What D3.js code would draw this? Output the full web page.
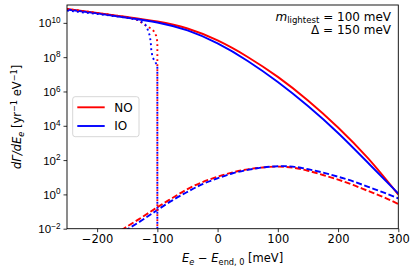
<!DOCTYPE html>
<html><head><meta charset="utf-8">
<script src="https://cdn.jsdelivr.net/npm/d3@7"></script>
<style>body{margin:0;background:#fff}svg{display:block;font-family:"DejaVu Sans",sans-serif}</style>
</head><body><svg id="c" width="413" height="275"></svg>
<script>
// ---- data ----
const xSolid = [-250,-200,-150,-100,-50,0,50,100,150,200,250,300];
const noSolid = [6.46e10,3.8e10,2.19e10,1.2e10,4.7e9,9.4e8,1.03e8,7.1e6,3.0e5,8.0e3,124,0.97];
const ioSolid = [6.0e10,3.55e10,2.0e10,1.05e10,3.6e9,6.3e8,6.0e7,3.55e6,1.42e5,3.8e3,68,1.12];
const xDashNO = [-160,-150,-125,-100,-75,-50,-25,0,25,50,75,100,125,150,175,200,225,250,275,300];
const noDash = [0.0081,0.0135,0.048,0.178,0.62,2.04,5.25,10.7,19.1,28.8,37.2,41.7,36.3,24,13.5,7.24,3.55,1.58,0.71,0.275];
const xDashIO = [-152,-150,-125,-100,-75,-50,-25,0,25,50,75,100,125,150,175,200,225,250,275,300];
const ioDash = [0.0081,0.0091,0.032,0.123,0.45,1.41,3.98,8.7,17.0,26.9,37.2,43.7,41.7,29.5,18.6,10.7,5.75,2.75,1.32,0.59];
const xDotNO = [-250,-200,-150,-140,-130,-125,-118,-111,-106,-102,-100,-100];
const noDot = [6.46e10,3.8e10,2.14e10,1.82e10,1.32e10,9.5e9,6.6e9,4.8e9,3.3e9,1.78e9,7.9e8,1e-3];
const xDotIO = [-250,-200,-150,-130,-120,-116,-113,-111,-110,-108,-104,-100,-100];
const ioDot = [5.2e10,3.3e10,2.0e10,1.41e10,7.9e9,4.0e9,2.0e9,7.9e8,2.5e8,1.0e8,5.6e7,3.2e7,1e-3];
const xTicks = [-200,-100,0,100,200,300];
const yTickExps = [-2,0,2,4,6,8,10];
const legendLabels = ["NO","IO"];
const colors = {NO:"#ff0000", IO:"#0000ff"};

// ---- layout ----
const svg = d3.select("#c");
const L=67, R=398.3, T=5, B=228.7;
const x = d3.scaleLinear().domain([-250,300]).range([L,R]);
const y = d3.scaleLog().domain([1e-2, 1.1e11]).range([B,T]);

svg.append("defs").append("clipPath").attr("id","clip")
  .append("rect").attr("x",L).attr("y",T).attr("width",R-L).attr("height",B-T);

const g = svg.append("g").attr("clip-path","url(#clip)");
function draw(xs, ys, col, dash, curve){
  const line = d3.line().x(d=>x(d[0])).y(d=>y(d[1])).curve(curve);
  g.append("path").datum(xs.map((v,i)=>[v,ys[i]]))
   .attr("d",line).attr("fill","none").attr("stroke",col)
   .attr("stroke-width",1.9).attr("stroke-dasharray",dash);
}
draw(xSolid,noSolid,colors.NO,null,d3.curveNatural);
draw(xSolid,ioSolid,colors.IO,null,d3.curveNatural);
draw(xDashNO,noDash,colors.NO,"6,2.6",d3.curveNatural);
draw(xDashIO,ioDash,colors.IO,"6,2.6",d3.curveNatural);
draw(xDotNO,noDot,colors.NO,"1.9,3.1",d3.curveLinear);
draw(xDotIO,ioDot,colors.IO,"1.9,3.1",d3.curveLinear);

// ---- axes ----
const xa = svg.append("g").attr("transform",`translate(0,${B})`)
  .call(d3.axisBottom(x).tickValues(xTicks).tickSize(3.5).tickPadding(3)
     .tickFormat(d=>d<0?"\u2212"+Math.abs(d):d));
xa.select(".domain").remove();
xa.selectAll("text").attr("font-size",11.5).attr("fill","#000").attr("font-family","DejaVu Sans");
xa.selectAll("line").attr("stroke","#000").attr("stroke-width",0.8);

const ya = svg.append("g").attr("transform",`translate(${L},0)`)
  .call(d3.axisLeft(y).tickValues(yTickExps.map(e=>Math.pow(10,e))).tickSize(3.5).tickPadding(3).tickFormat(""));
ya.select(".domain").remove();
ya.selectAll("line").attr("stroke","#000").attr("stroke-width",0.8);
ya.selectAll(".tick").each(function(d){
  const e = Math.round(Math.log10(d));
  const t = d3.select(this).append("text").attr("x",-6.5).attr("dy","0.35em")
    .attr("text-anchor","end").attr("font-size",11.5).attr("fill","#000");
  t.append("tspan").text("10");
  t.append("tspan").attr("font-size",8.2).attr("dy",-4.5).text(e<0?"\u2212"+Math.abs(e):e);
});

svg.append("rect").attr("x",L).attr("y",T).attr("width",R-L).attr("height",B-T)
  .attr("fill","none").attr("stroke","#000").attr("stroke-width",0.9);

// ---- labels ----
const xl = svg.append("text").attr("x",(L+R)/2).attr("y",262).attr("text-anchor","middle").attr("font-size",11.5);
xl.append("tspan").attr("font-style","italic").text("E");
xl.append("tspan").attr("font-style","italic").attr("font-size",8.2).attr("dy",2.5).text("e");
xl.append("tspan").attr("dy",-2.5).text(" \u2212 ");
xl.append("tspan").attr("font-style","italic").text("E");
xl.append("tspan").attr("font-size",8.2).attr("dy",2.5).text("end, 0");
xl.append("tspan").attr("dy",-2.5).text(" [meV]");

const yl = svg.append("text").attr("transform",`translate(21,${(T+B)/2}) rotate(-90)`)
  .attr("text-anchor","middle").attr("font-size",11.5);
yl.append("tspan").attr("font-style","italic").text("d\u0393/dE");
yl.append("tspan").attr("font-style","italic").attr("font-size",8.2).attr("dy",2.5).text("e");
yl.append("tspan").attr("dy",-2.5).text(" [yr");
yl.append("tspan").attr("font-size",8.2).attr("dy",-4.5).text("\u22121");
yl.append("tspan").attr("dy",4.5).text(" eV");
yl.append("tspan").attr("font-size",8.2).attr("dy",-4.5).text("\u22121");
yl.append("tspan").attr("dy",4.5).text("]");

// annotation
const a1 = svg.append("text").attr("x",391).attr("y",20.7).attr("text-anchor","end").attr("font-size",12);
a1.append("tspan").attr("font-style","italic").text("m");
a1.append("tspan").attr("font-size",8.6).attr("dy",2.5).text("lightest");
a1.append("tspan").attr("dy",-2.5).text(" = 100 meV");
svg.append("text").attr("x",391).attr("y",34.3).attr("text-anchor","end").attr("font-size",12)
  .text("\u0394 = 150 meV");

// legend
const lg = svg.append("g");
lg.append("rect").attr("x",72.7).attr("y",96.7).attr("width",66.3).attr("height",40).attr("rx",2.5)
  .attr("fill","#fff").attr("fill-opacity",0.8).attr("stroke","#cccccc").attr("stroke-width",0.8);
legendLabels.forEach((lab,i)=>{
  const yy = 107.3 + i*18.7;
  lg.append("line").attr("x1",77.3).attr("x2",104.7).attr("y1",yy).attr("y2",yy)
    .attr("stroke",colors[lab]).attr("stroke-width",1.9);
  lg.append("text").attr("x",114.3).attr("y",yy).attr("dy","0.36em").attr("font-size",12).text(lab);
});
</script></body></html>
